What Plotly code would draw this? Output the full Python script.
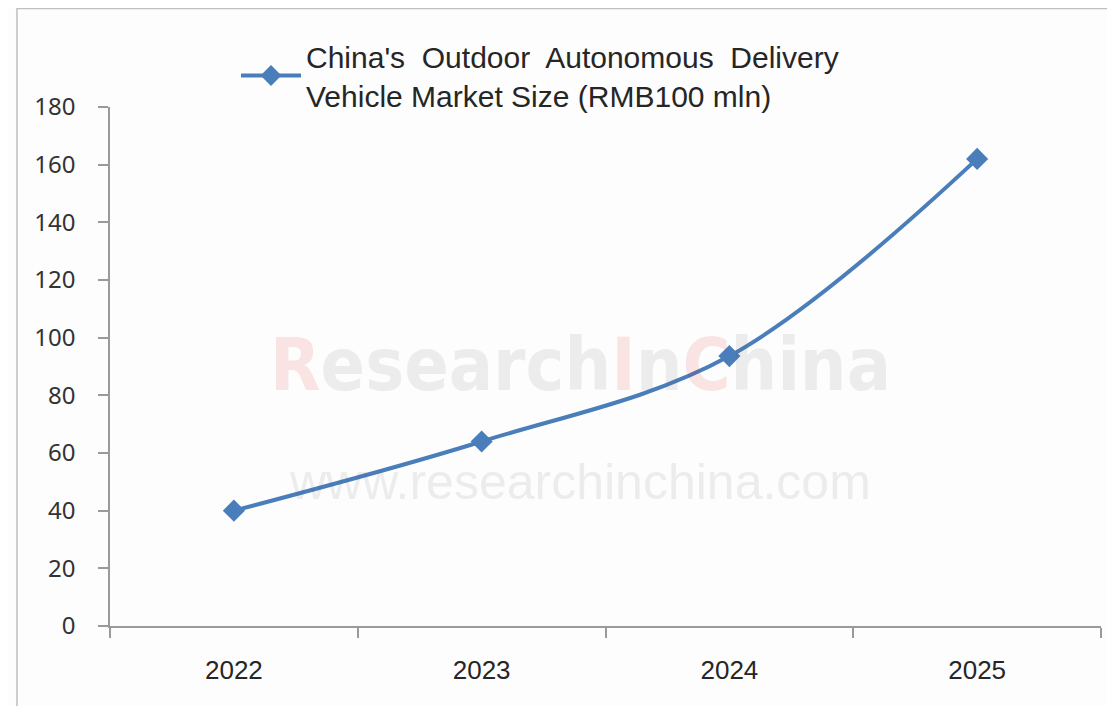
import plotly.graph_objects as go

years = ["2022", "2023", "2024", "2025"]
market_size = [40, 64, 93.6, 162]
series_name = "China's  Outdoor  Autonomous  Delivery<br>Vehicle Market Size (RMB100 mln)"
y_ticks = [0, 20, 40, 60, 80, 100, 120, 140, 160, 180]

OFF = 8  # page body margin
W, H = 1115 - OFF, 706 - OFF
L, R, T, B = 110 - OFF, 14, 107 - OFF, 80
pw, ph = W - L - R, H - T - B

def px(x):
    return (x - OFF - L) / pw

def py(y):
    return (H - B - (y - OFF)) / ph

fig = go.Figure()
fig.add_trace(go.Scatter(
    x=[0, 1, 2, 3], y=market_size, name=series_name,
    mode="lines+markers",
    line=dict(color="#4a7ebb", width=4, shape="spline", smoothing=1.0),
    marker=dict(symbol="diamond", size=17, color="#4a7ebb"),
))

# watermark (semi-transparent so the series shows through)
red = "#d70000"
fig.add_annotation(
    xref="paper", yref="paper", x=px(580), y=py(364), showarrow=False,
    text=f"<span style='color:{red}'>R</span>esearch<span style='color:{red}'>I</span>n<span style='color:{red}'>C</span>hina",
    font=dict(family="DejaVu Sans Condensed, Liberation Sans Narrow, Liberation Sans, sans-serif", size=73,
              color="rgba(85,85,85,0.1)", weight="bold"),
    xanchor="center", yanchor="middle",
)
fig.add_annotation(
    xref="paper", yref="paper", x=px(580), y=py(482), showarrow=False,
    text="www.researchinchina.com",
    font=dict(family="Liberation Sans, Arial, sans-serif", size=50, color="rgba(85,85,85,0.1)"),
    xanchor="center", yanchor="middle",
)

# frame
fig.add_shape(type="rect", xref="paper", yref="paper",
              x0=px(17), x1=px(1130), y0=py(730), y1=py(8.5),
              line=dict(color="#bfbfbf", width=1.5), fillcolor="rgba(0,0,0,0)", layer="below")

fig.update_layout(
    width=W, height=H,
    margin=dict(l=L, r=R, t=T, b=B),
    paper_bgcolor="#fdfdfd", plot_bgcolor="#fdfdfd",
    showlegend=True,
    legend=dict(
        x=px(236), y=py(30), xanchor="left", yanchor="top",
        font=dict(family="Liberation Sans Narrow, Arial Narrow, sans-serif", size=30, color="#262626"),
        bgcolor="rgba(0,0,0,0)", itemwidth=60,
    ),
    xaxis=dict(
        range=[-0.5, 3.5], tickmode="array", tickvals=[0, 1, 2, 3], ticktext=years,
        showgrid=False, zeroline=False, showline=True, linecolor="#9a9a9a", linewidth=1.5,
        ticks="", tickfont=dict(family="Liberation Sans Narrow, Arial Narrow, sans-serif", size=26, color="#262626"),
        minor=dict(tickmode="array", tickvals=[-0.5, 0.5, 1.5, 2.5, 3.5], ticks="outside", ticklen=10,
                   tickcolor="#9a9a9a", tickwidth=1.5),
        ticklabelstandoff=20,
    ),
    yaxis=dict(
        range=[0, 180], tickvals=y_ticks, showgrid=False, zeroline=False,
        showline=True, linecolor="#9a9a9a", linewidth=1.5,
        ticks="outside", ticklen=10, tickcolor="#9a9a9a", tickwidth=1.5,
        tickfont=dict(family="Noto Sans, DejaVu Sans, sans-serif", size=24, color="#333333"),
        ticklabelstandoff=18,
    ),
)

fig.write_html("out.html")
